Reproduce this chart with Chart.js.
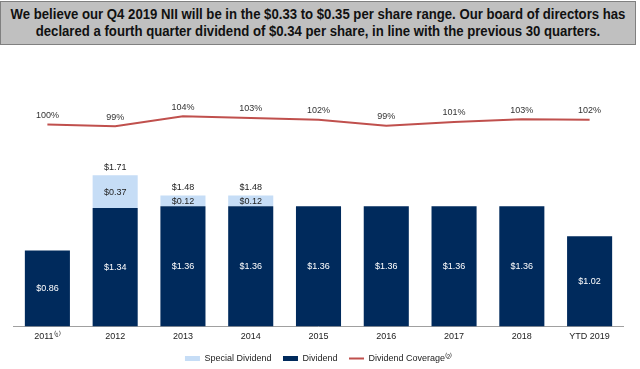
<!DOCTYPE html>
<html>
<head>
<meta charset="utf-8">
<script src="https://cdn.jsdelivr.net/npm/chart.js@4"></script>
<style>
  html, body { margin: 0; padding: 0; background: #fff; overflow: hidden; }
  body { width: 640px; height: 369px; position: relative; font-family: "Liberation Sans", Arial, sans-serif; }
  #banner {
    position: absolute; left: 0; top: 1px; width: 634px; height: 42px;
    background: #c0c0c0; border: 1px solid #808080; overflow: hidden;
  }
  #banner div {
    position: absolute; left: -100px; right: -100px; top: 4px;
    text-align: center; white-space: nowrap;
    font-weight: bold; font-size: 14px; line-height: 16.7px; color: #111;
    transform: scaleX(0.94); transform-origin: 50% 0;
  }
  #wrap { position: absolute; left: 0; top: 0; width: 640px; height: 373px; }
</style>
</head>
<body>
<div id="wrap"><canvas id="divChart" width="640" height="373"></canvas></div>
<div id="banner"><div>We believe our Q4 2019 NII will be in the $0.33 to $0.35 per share range. Our board of directors has<br>declared a fourth quarter dividend of $0.34 per share, in line with the previous 30 quarters.</div></div>
<script>
// values
const years = ["2011\u207D\u00B9\u207E", "2012", "2013", "2014", "2015", "2016", "2017", "2018", "YTD 2019"];
const dividend = [0.86, 1.34, 1.36, 1.36, 1.36, 1.36, 1.36, 1.36, 1.02];
const specialDividend = [null, 0.37, 0.12, 0.12, null, null, null, null, null];
const coverage = [100.0, 99.2, 104.1, 103.3, 102.4, 99.4, 101.3, 102.6, 102.4];

const navy = "#002a5c";
const lightBlue = "#c6ddf6";
const red = "#c0504d";

// draws the $ and % labels on top of the marks
const labelPlugin = {
  id: "valueLabels",
  afterDatasetsDraw(chart) {
    const ctx = chart.ctx;
    ctx.save();
    ctx.font = "9px 'Liberation Sans', Arial, sans-serif";
    ctx.textAlign = "center";
    ctx.textBaseline = "middle";

    const divMeta = chart.getDatasetMeta(0);
    divMeta.data.forEach(function(bar, i) {
      ctx.fillStyle = "#ffffff";
      ctx.fillText("$" + dividend[i].toFixed(2), bar.x, (bar.y + bar.base) / 2);
    });

    const specMeta = chart.getDatasetMeta(1);
    specMeta.data.forEach(function(bar, i) {
      ctx.fillStyle = "#222";
      if (specialDividend[i] == null) return;
      ctx.fillText("$" + specialDividend[i].toFixed(2), bar.x, (bar.y + bar.base) / 2 + 0.5);
      ctx.fillText("$" + (dividend[i] + specialDividend[i]).toFixed(2), bar.x, bar.y - 8);
    });

    const lineMeta = chart.getDatasetMeta(2);
    lineMeta.data.forEach(function(pt, i) {
      ctx.fillStyle = "#333";
      ctx.fillText(Math.round(coverage[i]) + "%", pt.x, pt.y - 9);
    });
    ctx.restore();
  }
};

const legendOrder = [1, 0, 2];

const ctx = document.getElementById("divChart").getContext("2d");
new Chart(ctx, {
  type: "bar",
  data: {
    labels: years,
    datasets: [
      {
        label: "Dividend",
        data: dividend,
        backgroundColor: navy,
        stack: "div",
        yAxisID: "y",
        pointStyle: "rect",
        categoryPercentage: 0.665,
        barPercentage: 1
      },
      {
        label: "Special Dividend",
        data: specialDividend,
        backgroundColor: lightBlue,
        stack: "div",
        yAxisID: "y",
        pointStyle: "rect",
        categoryPercentage: 0.665,
        barPercentage: 1
      },
      {
        type: "line",
        label: "Dividend Coverage\u207D\u00B2\u207E",
        data: coverage,
        borderColor: red,
        backgroundColor: red,
        borderWidth: 2,
        pointRadius: 0,
        tension: 0,
        yAxisID: "y1",
        pointStyle: "line"
      }
    ]
  },
  options: {
    responsive: false,
    animation: false,
    maintainAspectRatio: false,
    layout: { padding: { top: 61, left: 13.5, right: 16.5, bottom: 0 } },
    plugins: {
      tooltip: { enabled: false },
      legend: {
        position: "bottom",
        labels: {
          usePointStyle: true,
          pointStyleWidth: 15,
          boxHeight: 5,
          padding: 11.5,
          color: "#222",
          font: { size: 9, family: "'Liberation Sans', Arial, sans-serif" },
          sort: function(a, b) { return legendOrder[a.datasetIndex] - legendOrder[b.datasetIndex]; }
        }
      }
    },
    scales: {
      x: {
        stacked: true,
        grid: { display: false, drawTicks: false },
        border: { color: "#a0a0a0", width: 1 },
        ticks: { color: "#222", padding: 5, maxRotation: 0, font: { size: 9, family: "'Liberation Sans', Arial, sans-serif" } },
        afterFit: function(axis) { axis.height = 16; }
      },
      y: { display: false, stacked: true, min: 0, max: 3 },
      y1: { display: false, min: 0, max: 131.5 }
    }
  },
  plugins: [labelPlugin]
});
</script>
</body>
</html>
